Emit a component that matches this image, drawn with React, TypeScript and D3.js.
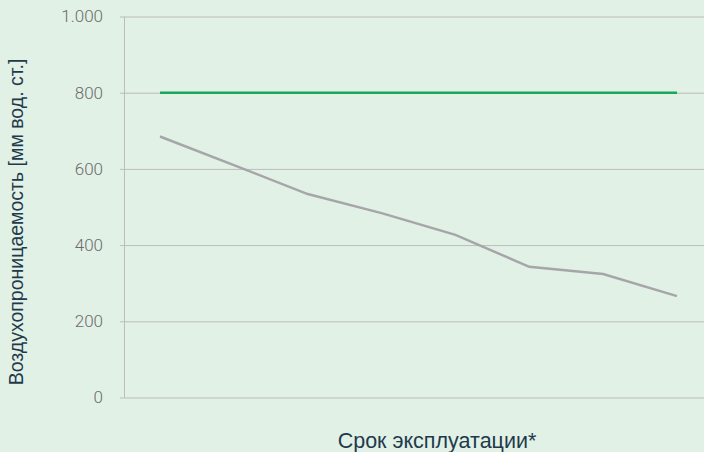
import React, { useRef, useEffect } from "react";
import * as d3 from "d3";

// ось Y
const yTicks = [0, 200, 400, 600, 800, 1000];
// точки по сроку эксплуатации
const periods = ["1", "2", "3", "4", "5", "6", "7", "8"];
const permeability = [685, 610, 534, 484, 427, 343, 324, 266];
const limitValue = [800, 800, 800, 800, 800, 800, 800, 800];

const yTitle = "Воздухопроницаемость [мм вод. ст.]";
const xTitle = "Срок эксплуатации*";

const W = 704;
const H = 452;

const App = () => {
    const svgRef = useRef<SVGSVGElement | null>(null);

    useEffect(() => {
        const svg = d3.select(svgRef.current);
        svg.selectAll("*").remove();

        svg.append("rect").attr("width", W).attr("height", H).attr("fill", "#e2f1e6");

        const x = d3.scalePoint<string>().domain(periods).range([160, 677]);
        const y = d3.scaleLinear().domain([0, 1000]).range([397.5, 16.5]);

        // сетка
        const yAxis = d3
            .axisLeft(y)
            .tickValues(yTicks)
            .tickSize(-(W - 120))
            .tickPadding(17)
            .tickFormat((d) => d3.format(",")(d as number).replace(",", "."));

        const g = svg.append("g").attr("transform", "translate(120,0)").call(yAxis);
        g.select(".domain").remove();
        g.selectAll(".tick line").attr("stroke", "#bcbcbc").attr("stroke-width", 1);
        g.selectAll(".tick text")
            .attr("fill", "#6b6b6b")
            .style("font-family", "Roboto")
            .style("font-weight", "300")
            .style("font-size", "17px");

        // вертикальная ось
        svg.append("line")
            .attr("x1", 124.5).attr("x2", 124.5)
            .attr("y1", y(1000)).attr("y2", y(0))
            .attr("stroke", "#bcbcbc");

        const line = d3
            .line<number>()
            .x((_, i) => x(periods[i]) as number)
            .y((d) => y(d));

        svg.append("path")
            .datum(permeability)
            .attr("d", line)
            .attr("fill", "none")
            .attr("stroke", "#a6a6aa")
            .attr("stroke-width", 2.5);

        svg.append("path")
            .datum(limitValue)
            .attr("d", line)
            .attr("fill", "none")
            .attr("stroke", "#17a85a")
            .attr("stroke-width", 2.5);

        svg.append("text")
            .attr("transform", "translate(23,222) rotate(-90)")
            .attr("text-anchor", "middle")
            .attr("fill", "#1e3a4c")
            .style("font-family", "Liberation Sans, Arial, sans-serif")
            .style("font-size", "19.5px")
            .text(yTitle);

        svg.append("text")
            .attr("x", 437)
            .attr("y", 448)
            .attr("text-anchor", "middle")
            .attr("fill", "#1e3a4c")
            .style("font-family", "Liberation Sans, Arial, sans-serif")
            .style("font-size", "21.5px")
            .text(xTitle);
    }, []);

    return (
        <svg
            ref={svgRef}
            width={W}
            height={H}
            style={{ position: "absolute", left: 0, top: 0, display: "block" }}
        ></svg>
    );
};

export default App;
